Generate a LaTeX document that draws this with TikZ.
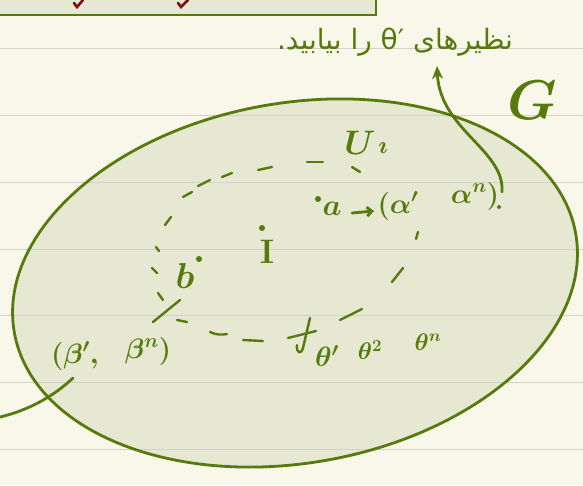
\RequirePackage{fix-cm}
\documentclass[tikz,border=0pt]{standalone}
\usepackage{fontspec}
\newfontfamily\arabicfont[Script=Arabic]{DejaVu Sans}
\TeXXeTstate=1
\usetikzlibrary{arrows.meta}
\definecolor{paper}{HTML}{F9F7E9}
\definecolor{ink}{HTML}{567A0C}
\definecolor{pale}{HTML}{E6E8D2}
\definecolor{rulecol}{HTML}{D2D2CC}
\definecolor{redink}{HTML}{7A1010}
\begin{document}
\begin{tikzpicture}[x=1pt,y=-1pt,
  inkline/.style={draw=ink,line width=2.8pt,line cap=round},
  dashstroke/.style={draw=ink,line width=2.4pt,line cap=round},
  hw/.style={text=ink,inner sep=0pt,anchor=center,execute at begin node=\boldmath},
  dotmark/.style={fill=ink,circle,inner sep=0pt,minimum size=6pt}]
\useasboundingbox (0,0) rectangle (583,485);
\fill[paper] (0,0) rectangle (583,485);
% top box
\fill[pale] (-5,-5) rectangle (376,15);
\draw[draw=ink,line width=2.2pt] (-5,15) -- (376,15) -- (376,-5);
\draw[draw=redink,line width=2.6pt,line cap=round] (74,3) -- (77,7) -- (83,0);
\draw[draw=redink,line width=2.6pt,line cap=round] (178,3) -- (181,7) -- (188,0);
% ellipse fill
\begin{scope}[shift={(295,283)},rotate=10]
  \fill[pale] (0,0) ellipse [x radius=285,y radius=180];
\end{scope}
% ruled lines
\foreach \yy in {48,115,182,249,315,382,449}
  \draw[rulecol,line width=1pt] (0,\yy) -- (583,\yy);
% ellipse outline
\begin{scope}[shift={(295,283)},rotate=10]
  \draw[inkline] (0,0) ellipse [x radius=285,y radius=180];
\end{scope}
% dashed loop U1
\draw[dashstroke] (165,225) -- (171,217);
\draw[dashstroke] (183,197) -- (192,192);
\draw[dashstroke] (198,186) -- (210,180);
\draw[dashstroke] (222,177) -- (232,173);
\draw[dashstroke] (258,170) -- (272,167);
\draw[dashstroke] (307,162) -- (323,162);
\draw[dashstroke] (352,167) -- (360,172);
\draw[dashstroke] (418,232) -- (416,239);
\draw[dashstroke] (403,268) -- (392,282);
\draw[dashstroke] (362,309) -- (340,320);
\draw[dashstroke] (156,247) -- (159,251);
\draw[dashstroke] (152,268) -- (157,273);
\draw[dashstroke] (158,293) -- (163,300);
\draw[dashstroke] (180,300) -- (153,322);
\draw[dashstroke] (177,320) -- (187,322);
\draw[dashstroke] (210,332) .. controls (216,335) and (222,335) .. (227,334);
\draw[dashstroke] (243,340) -- (263,341);
% hook mark
\draw[dashstroke] (310,318) -- (303,348) .. controls (301,355) and (296,353) .. (297,345);
\draw[dashstroke] (288,338) -- (316,331);
% labels
\node[hw,font=\fontsize{34}{36}\selectfont] (U) at (360,143) {$U$};
\node[hw,font=\fontsize{24}{26}\selectfont] (Uone) at (383,148) {$\imath$};
\node[dotmark] (adot) at (318,199) {};
\node[hw,font=\fontsize{30}{32}\selectfont] (a) at (332,209) {$a$};
\coordinate (arrS) at (352,213);
\coordinate (arrE) at (374,211);
\draw[inkline,-{Straight Barb[length=5pt,width=9pt]}] (arrS) -- (arrE);
\node[hw,font=\fontsize{28}{30}\selectfont] (alpha1) at (398,206) {$(\alpha^{\prime}$};
\node[hw,font=\fontsize{28}{30}\selectfont] (alphan) at (475,196) {$\alpha^{n})$};
\node[dotmark,minimum size=4pt] (qdot) at (499,207) {};
\node[dotmark] (Idot) at (262,228) {};
\node[hw,font=\fontsize{34}{36}\selectfont] (I) at (267,252) {$\mathbf{I}$};
\node[dotmark] (bdot) at (199,259) {};
\node[hw,font=\fontsize{36}{38}\selectfont] (b) at (185,276) {$b$};
\node[hw,font=\fontsize{28}{30}\selectfont] (beta1) at (75,356) {$(\beta^{\prime},$};
\node[hw,font=\fontsize{28}{30}\selectfont] (betan) at (148,351) {$\beta^{n})$};
\node[hw,font=\fontsize{28}{30}\selectfont] (th1) at (327,356) {$\theta^{\prime}$};
\node[hw,font=\fontsize{24}{26}\selectfont] (th2) at (370,350) {$\theta^{2}$};
\node[hw,font=\fontsize{24}{26}\selectfont] (thn) at (428,342) {$\theta^{n}$};
\node[hw,font=\fontsize{56}{58}\selectfont] (G) at (532,100) {$G$};
\node[hw,font=\arabicfont\fontsize{28}{32}\selectfont] (title) at (395,42)
  {\beginR نظیرهای \beginL θ′\endL{} را بیابید.\endR};
% connectors
\coordinate (curveS) at (502,192);
\coordinate (tip) at (437,66);
\draw[inkline,-{Stealth[length=13pt,width=11pt]}] (curveS) .. controls (505,150) and (440,130) .. (tip);
\coordinate (leftEnd) at (0,417);
\coordinate (betaEnd) at (73,378);
\draw[inkline] (leftEnd) .. controls (30,410) and (55,395) .. (betaEnd);
\end{tikzpicture}
\end{document}
